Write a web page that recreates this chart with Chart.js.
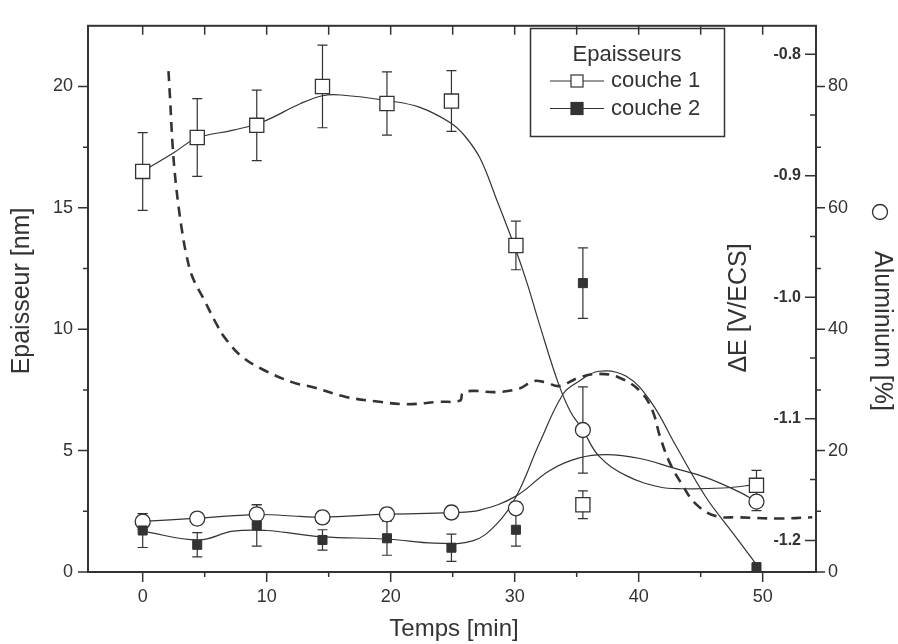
<!DOCTYPE html>
<html>
<head>
<meta charset="utf-8">
<script src="https://cdn.jsdelivr.net/npm/chart.js@4"></script>
<style>
  html, body { margin: 0; padding: 0; background: #fff; }
  canvas { display: block; }
</style>
</head>
<body>
<canvas id="chart" width="898" height="644"></canvas>
<script>
// measured points
const time = [0, 4.4, 9.2, 14.5, 19.7, 24.9, 30.1, 35.5, 49.5];
const couche1 = [16.5, 17.9, 18.4, 20.0, 19.3, 19.4, 13.45, 2.77, 3.57];
const couche1Err = [1.6, 1.6, 1.45, 1.7, 1.3, 1.25, 1.0, 0.57, 0.62];
const couche2 = [1.71, 1.12, 1.92, 1.32, 1.39, 1.0, 1.74, 11.9, 0.2];
const couche2Err = [0.7, 0.5, 0.85, 0.42, 0.7, 0.56, 0.67, 1.45, 0];
const aluminium = [8.3, 8.8, 9.5, 9.0, 9.5, 9.8, 10.5, 23.4, 11.6];
const aluminiumErr = [1.3, 1.0, 1.6, 1.0, 1.0, 1.0, 1.0, 7.1, 1.5];

// fitted curves
const fit1Time = [0, 2.5, 4.4, 7.3, 9.7, 12.7, 14.5, 16, 19.7, 22.3, 24.9, 26, 27.2, 28.5, 30, 31, 32, 33.5, 34.5, 35.5, 36.8, 39, 41.7, 43.5, 46.8, 49.5];
const fit1 = [16.5, 17.27, 17.88, 18.2, 18.55, 19.29, 19.62, 19.65, 19.42, 19.15, 18.48, 17.95, 17.05, 15.4, 13.4, 11.9, 10.2, 7.8, 6.6, 5.85, 4.77, 3.97, 3.5, 3.43, 3.46, 3.6];
const fit2Time = [0, 4.5, 7.3, 10, 12.7, 14.5, 19.9, 23.5, 26.6, 28.5, 30.1, 32, 33.9, 35, 36.8, 39, 41, 43, 45.4, 47.6, 49.5];
const fit2 = [1.68, 1.32, 1.68, 1.71, 1.55, 1.45, 1.35, 1.19, 1.28, 1.95, 3.09, 5.31, 7.33, 7.8, 8.27, 8.06, 7.0, 5.2, 3.1, 1.6, 0.3];
const fitAlTime = [0, 4.4, 9.2, 12.7, 14.5, 19.7, 24.9, 27.2, 30.1, 32.8, 35.2, 37.4, 40.1, 42.7, 45.4, 48.1, 49.5];
const fitAl = [8.34, 8.87, 9.47, 9.15, 9.03, 9.52, 9.79, 10.2, 12.5, 16.7, 18.8, 19.35, 18.7, 17.2, 15.6, 13.2, 11.6];

// potential (dashed)
const potTime = [2.08, 2.2, 2.4, 2.6, 2.9, 3.2, 3.5, 4.0, 4.9, 6.0, 6.6, 7.9, 9.6, 12.1, 13.75, 16.4, 19.1, 21.3, 23.9, 25.6, 25.8, 26.6, 28.5, 30.4, 31.5, 32.5, 33.6, 35.2, 36.8, 38.4, 40.1, 41.1, 41.7, 42.5, 43.5, 44.6, 46.2, 48.1, 51.3, 54.0];
const potential = [-0.814, -0.835, -0.873, -0.899, -0.926, -0.947, -0.964, -0.983, -1.001, -1.023, -1.033, -1.048, -1.059, -1.070, -1.074, -1.082, -1.086, -1.088, -1.086, -1.085, -1.079, -1.077, -1.078, -1.075, -1.069, -1.070, -1.073, -1.066, -1.063, -1.066, -1.077, -1.093, -1.114, -1.136, -1.154, -1.170, -1.180, -1.181, -1.182, -1.181];

// ticks
const timeTicks = [0, 10, 20, 30, 40, 50];
const timeMinor = [5, 15, 25, 35, 45];
const nmTicks = [0, 5, 10, 15, 20];
const nmMinor = [2.5, 7.5, 12.5, 17.5];
const eTicks = [-1.2, -1.1, -1.0, -0.9, -0.8];
const eMinor = [-1.15, -1.05, -0.95, -0.85];
const alTicks = [0, 20, 40, 60, 80];
const alMinor = [10, 30, 50, 70];

const ink = '#333';
const FONT = "'Liberation Sans', Arial, sans-serif";
Chart.defaults.font.family = FONT;
Chart.defaults.color = ink;

const pts = (xs, ys) => xs.map((x, i) => ({ x: x, y: ys[i] }));
const setTicks = vals => s => { s.ticks = vals.map(v => ({ value: v })); };

const decor = {
  id: 'decor',
  beforeDatasetsDraw(chart) {
    const { ctx, scales } = chart;
    ctx.save();
    ctx.strokeStyle = ink;
    ctx.lineWidth = 1.2;
    chart.data.datasets.forEach(ds => {
      if (!ds.errors) return;
      const ys = scales[ds.yAxisID];
      ds.data.forEach((p, j) => {
        const e = ds.errors[j];
        if (!e) return;
        const px = scales.x.getPixelForValue(p.x);
        const t = ys.getPixelForValue(p.y + e), b = ys.getPixelForValue(p.y - e);
        ctx.beginPath();
        ctx.moveTo(px, t); ctx.lineTo(px, b);
        ctx.moveTo(px - 5, t); ctx.lineTo(px + 5, t);
        ctx.moveTo(px - 5, b); ctx.lineTo(px + 5, b);
        ctx.stroke();
      });
    });
    ctx.restore();
  },
  afterDraw(chart) {
    const { ctx, chartArea: a, scales: s } = chart;
    ctx.save();
    ctx.strokeStyle = ink;
    ctx.fillStyle = ink;
    ctx.lineWidth = 2;
    ctx.strokeRect(a.left, a.top, a.right - a.left, a.bottom - a.top);

    ctx.lineWidth = 1.5;
    ctx.beginPath();
    const seg = (x1, y1, x2, y2) => { ctx.moveTo(x1, y1); ctx.lineTo(x2, y2); };
    timeTicks.forEach(v => { const p = s.x.getPixelForValue(v); seg(p, a.bottom, p, a.bottom + 10); seg(p, a.top, p, a.top + 9); });
    timeMinor.forEach(v => { const p = s.x.getPixelForValue(v); seg(p, a.bottom, p, a.bottom + 5); seg(p, a.top, p, a.top + 9); });
    nmTicks.forEach(v => { const p = s.y.getPixelForValue(v); seg(a.left - 10, p, a.left, p); });
    nmMinor.forEach(v => { const p = s.y.getPixelForValue(v); seg(a.left - 5, p, a.left, p); });
    eTicks.forEach(v => { const p = s.yE.getPixelForValue(v); seg(a.right - 11, p, a.right, p); });
    eMinor.forEach(v => { const p = s.yE.getPixelForValue(v); seg(a.right - 6, p, a.right, p); });
    alTicks.forEach(v => { const p = s.yAl.getPixelForValue(v); seg(a.right, p, a.right + 9, p); });
    alMinor.forEach(v => { const p = s.yAl.getPixelForValue(v); seg(a.right, p, a.right + 5, p); });
    ctx.stroke();

    // axis titles
    ctx.font = '24px ' + FONT;
    ctx.textAlign = 'center';
    ctx.textBaseline = 'alphabetic';
    ctx.fillText('Temps [min]', 454, 636);

    ctx.textBaseline = 'middle';
    ctx.font = '25px ' + FONT;
    ctx.save();
    ctx.translate(22, 291);
    ctx.rotate(-Math.PI / 2);
    ctx.fillText('Epaisseur [nm]', 0, 0);
    ctx.restore();

    ctx.save();
    ctx.translate(739, 308);
    ctx.rotate(-Math.PI / 2);
    ctx.fillText('\u0394E [V/ECS]', 0, 0);
    ctx.restore();

    ctx.save();
    ctx.translate(882, 331);
    ctx.rotate(Math.PI / 2);
    ctx.fillText('Aluminium [%]', 0, 0);
    ctx.restore();
    ctx.lineWidth = 1.3;
    ctx.beginPath();
    ctx.arc(880, 212, 7.5, 0, Math.PI * 2);
    ctx.stroke();

    // legend box
    ctx.lineWidth = 1.5;
    ctx.strokeRect(530.5, 28.5, 194, 108);
    ctx.font = '22px ' + FONT;
    ctx.textBaseline = 'alphabetic';
    ctx.fillText('Epaisseurs', 627, 61);
    ctx.textAlign = 'left';
    ctx.textBaseline = 'middle';
    chart.data.datasets.filter(d => d.legendRow !== undefined).forEach(d => {
      const y = 81 + d.legendRow * 27.5;
      ctx.lineWidth = 1.2;
      ctx.beginPath(); ctx.moveTo(550, y); ctx.lineTo(604, y); ctx.stroke();
      ctx.fillStyle = d.pointBackgroundColor;
      ctx.fillRect(571, y - 6, 12, 12);
      ctx.strokeRect(571, y - 6, 12, 12);
      ctx.fillStyle = ink;
      ctx.fillText(d.label, 611, y);
    });
    ctx.restore();
  }
};

new Chart(document.getElementById('chart'), {
  type: 'scatter',
  data: {
    datasets: [
      {
        label: 'couche 1', legendRow: 0, yAxisID: 'y', order: 0,
        data: pts(time, couche1), errors: couche1Err,
        pointStyle: 'rect', pointRadius: 10, pointBackgroundColor: '#fff',
        pointBorderColor: ink, pointBorderWidth: 1.3
      },
      {
        label: 'couche 2', legendRow: 1, yAxisID: 'y', order: 0,
        data: pts(time, couche2), errors: couche2Err,
        pointStyle: 'rect', pointRadius: 6.4, pointBackgroundColor: ink,
        pointBorderColor: ink, pointBorderWidth: 1
      },
      {
        label: 'Aluminium', yAxisID: 'yAl', order: 0,
        data: pts(time, aluminium), errors: aluminiumErr,
        pointStyle: 'circle', pointRadius: 7.5, pointBackgroundColor: '#fff',
        pointBorderColor: ink, pointBorderWidth: 1.3
      },
      {
        label: 'fit couche 1', yAxisID: 'y', order: 1, showLine: true,
        data: pts(fit1Time, fit1), pointRadius: 0, borderColor: ink, borderWidth: 1.2,
        tension: 0.4
      },
      {
        label: 'fit couche 2', yAxisID: 'y', order: 1, showLine: true,
        data: pts(fit2Time, fit2), pointRadius: 0, borderColor: ink, borderWidth: 1.2,
        tension: 0.4
      },
      {
        label: 'fit aluminium', yAxisID: 'yAl', order: 1, showLine: true,
        data: pts(fitAlTime, fitAl), pointRadius: 0, borderColor: ink, borderWidth: 1.2,
        tension: 0.4
      },
      {
        label: 'potentiel', yAxisID: 'yE', order: 2, showLine: true,
        data: pts(potTime, potential), pointRadius: 0, borderColor: ink, borderWidth: 2.6,
        borderDash: [10, 7], tension: 0.4
      }
    ]
  },
  options: {
    responsive: false,
    animation: false,
    events: [],
    layout: { padding: { top: 14, left: 0, right: 0, bottom: 0 } },
    plugins: { legend: { display: false }, tooltip: { enabled: false } },
    scales: {
      x: {
        type: 'linear', position: 'bottom', min: -4.41, max: 54.3,
        grid: { display: false, drawTicks: false }, border: { display: false },
        afterBuildTicks: setTicks(timeTicks),
        afterFit: sc => { sc.height = 72; },
        ticks: { font: { size: 18 }, color: ink, padding: 14, maxRotation: 0, autoSkip: false }
      },
      y: {
        type: 'linear', position: 'left', min: 0, max: 22.5,
        grid: { display: false, drawTicks: false }, border: { display: false },
        afterBuildTicks: setTicks(nmTicks),
        afterFit: sc => { sc.width = 88; },
        ticks: { font: { size: 18 }, color: ink, padding: 15 }
      },
      yE: {
        type: 'linear', position: 'right', weight: 0, min: -1.226, max: -0.7767,
        grid: { display: false, drawTicks: false }, border: { display: false },
        afterBuildTicks: setTicks(eTicks),
        afterFit: sc => { sc.width = 0; },
        ticks: { mirror: true, padding: -15, font: { size: 16, weight: 'bold' }, color: ink,
                 callback: v => v.toFixed(1) }
      },
      yAl: {
        type: 'linear', position: 'right', weight: 1, min: 0, max: 90,
        grid: { display: false, drawTicks: false }, border: { display: false },
        afterBuildTicks: setTicks(alTicks),
        afterFit: sc => { sc.width = 82; },
        ticks: { font: { size: 18 }, color: ink, padding: 12 }
      }
    }
  },
  plugins: [decor]
});
</script>
</body>
</html>
